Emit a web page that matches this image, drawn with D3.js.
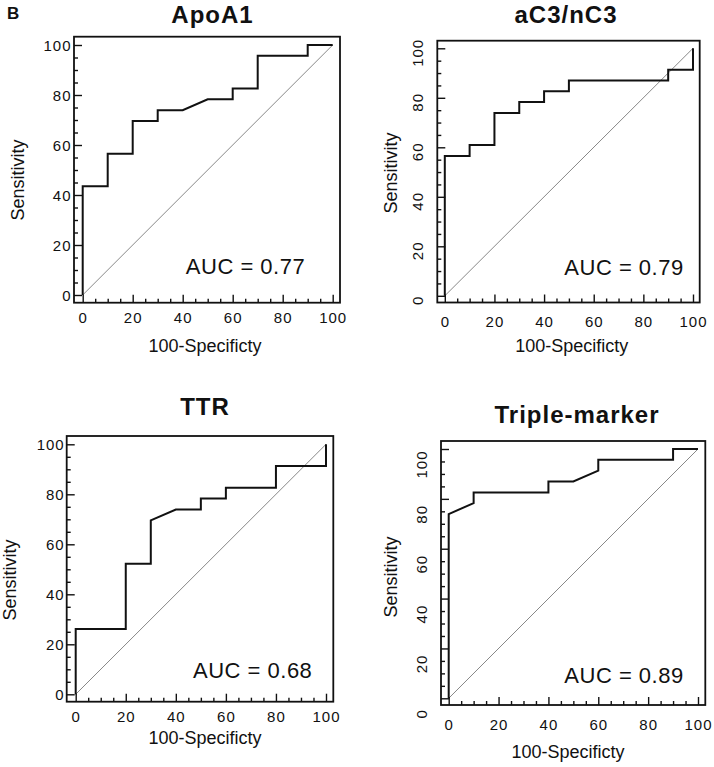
<!DOCTYPE html>
<html><head><meta charset="utf-8">
<script src="https://cdn.jsdelivr.net/npm/d3@7"></script>
<style>body{margin:0;background:#fff} svg{display:block} text{fill:#111}</style>
</head><body><svg id="c" width="714" height="767"></svg>
<script>
// ---- data ----
const titles = ["ApoA1", "aC3/nC3", "TTR", "Triple-marker"];
const aucValues = [0.77, 0.79, 0.68, 0.89];
const tickLabels = [0, 20, 40, 60, 80, 100];
const minorTicks = [5, 10, 15, 25, 30, 35, 45, 50, 55, 65, 70, 75, 85, 90, 95];
const xAxisTitle = "100-Specificty";
const yAxisTitle = "Sensitivity";
const panelLetter = "B";

const apoA1X = [0, 0, 10, 10, 20, 20, 30, 30, 40, 50, 60, 60, 70, 70, 90, 90, 100];
const apoA1Y = [0, 43.5, 43.5, 56.5, 56.5, 69.6, 69.6, 73.9, 73.9, 78.3, 78.3, 82.6, 82.6, 95.7, 95.7, 100, 100];
const c3X = [0, 0, 10, 10, 20, 20, 30, 30, 40, 40, 50, 50, 90, 90, 100, 100];
const c3Y = [0, 56.5, 56.5, 60.9, 60.9, 73.9, 73.9, 78.3, 78.3, 82.6, 82.6, 87, 87, 91.3, 91.3, 100];
const ttrX = [0, 0, 20, 20, 30, 30, 40, 50, 50, 60, 60, 80, 80, 100, 100];
const ttrY = [0, 26.1, 26.1, 52.2, 52.2, 69.6, 73.9, 73.9, 78.3, 78.3, 82.6, 82.6, 91.3, 91.3, 100];
const tripleX = [0, 0, 10, 10, 40, 40, 50, 60, 60, 90, 90, 100];
const tripleY = [0, 73.9, 78.3, 82.6, 82.6, 87, 87, 91.3, 95.7, 95.7, 100, 100];
const seriesX = [apoA1X, c3X, ttrX, tripleX];
const seriesY = [apoA1Y, c3Y, ttrY, tripleY];

// ---- layout ----
const FONT = '"Liberation Sans", Arial, Helvetica, sans-serif';
const layout = [
  {frame:[74,36.7,340,302.7], xr:[82.7,332.7], yr:[295,45], rot:false, yLabGap:2.5, yShift:0, xLabBase:322.7, title:[212.5,23.3], yTitle:[18,180], xTitle:[205,352], auc:[245.5,274]},
  {frame:[437.3,40.7,699.7,302.5], xr:[444.8,693], yr:[295.8,48.3], rot:true, yLabGap:19.5, yShift:4, xLabBase:327.3, title:[566,23.3], yTitle:[391,173], xTitle:[571.7,352.3], auc:[624,275]},
  {frame:[66.7,436,333.3,701.7], xr:[75.7,326], yr:[694.3,444.3], rot:false, yLabGap:2, yShift:0, xLabBase:721.7, title:[205,415], yTitle:[10,580], xTitle:[205,743.5], auc:[252.7,677.7]},
  {frame:[441,441,705.3,705], xr:[448.7,698], yr:[698.3,449], rot:true, yLabGap:19, yShift:15, xLabBase:730, title:[577,423.3], yTitle:[391,577], xTitle:[568,757.5], auc:[624,683.3]}
];

const svg = d3.select("#c").style("font-family", FONT);
svg.append("text").attr("x", 7).attr("y", 18.5).attr("font-weight", "bold")
  .attr("font-size", 17).attr("font-family", FONT).text(panelLetter);

layout.forEach((L, i) => {
  const g = svg.append("g");
  const [fx0, fy0, fx1, fy1] = L.frame;
  const x = d3.scaleLinear().domain([0, 100]).range(L.xr);
  const y = d3.scaleLinear().domain([0, 100]).range(L.yr);

  // diagonal reference
  g.append("line").attr("x1", x(0)).attr("y1", y(0)).attr("x2", x(100)).attr("y2", y(100))
    .attr("stroke", "#555").attr("stroke-width", 0.7);

  const styleAxis = a => {
    a.select(".domain").remove();
    a.attr("color", "#111").attr("font-family", FONT);
    a.selectAll("line").attr("stroke-width", 1.4);
  };

  // x axis: minor + major
  g.append("g").attr("transform", `translate(0,${fy1})`)
    .call(d3.axisBottom(x).tickValues(minorTicks).tickSize(-4).tickFormat(""))
    .call(styleAxis);
  const xa = g.append("g").attr("transform", `translate(0,${fy1})`)
    .call(d3.axisBottom(x).tickValues(tickLabels).tickSize(-8).tickFormat(d3.format("d")))
    .call(styleAxis);
  xa.selectAll("text").attr("y", L.xLabBase - fy1).attr("dy", null)
    .attr("font-size", 15).attr("letter-spacing", "1px").attr("fill", "#111");

  // y axis: minor + major
  g.append("g").attr("transform", `translate(${fx0},0)`)
    .call(d3.axisLeft(y).tickValues(minorTicks).tickSize(-4).tickFormat(""))
    .call(styleAxis);
  const ya = g.append("g").attr("transform", `translate(${fx0},0)`)
    .call(d3.axisLeft(y).tickValues(tickLabels).tickSize(-8).tickPadding(L.yLabGap).tickFormat(d3.format("d")))
    .call(styleAxis);
  const yt = ya.selectAll("text").attr("font-size", 15).attr("letter-spacing", "1px").attr("fill", "#111");
  if (L.rot) {
    yt.attr("x", null).attr("dy", "0.35em").attr("text-anchor", "middle")
      .attr("transform", `translate(${-L.yLabGap},${L.yShift}) rotate(-90)`);
  } else {
    yt.attr("dy", "0.35em");
  }

  // ROC curve
  const pts = seriesX[i].map((v, k) => [v, seriesY[i][k]]);
  g.append("path").datum(pts)
    .attr("d", d3.line().x(d => x(d[0])).y(d => y(d[1])))
    .attr("fill", "none").attr("stroke", "#111").attr("stroke-width", 2)
    .attr("stroke-linejoin", "miter");

  // frame
  g.append("rect").attr("x", fx0).attr("y", fy0).attr("width", fx1 - fx0).attr("height", fy1 - fy0)
    .attr("fill", "none").attr("stroke", "#111").attr("stroke-width", 1.8);

  // titles and labels
  g.append("text").attr("x", L.title[0]).attr("y", L.title[1]).attr("text-anchor", "middle")
    .attr("font-weight", "bold").attr("font-size", 24).attr("letter-spacing", "1px").attr("font-family", FONT).text(titles[i]);
  g.append("text").attr("transform", `translate(${L.yTitle[0]},${L.yTitle[1]}) rotate(-90)`)
    .attr("dy", "0.35em").attr("text-anchor", "middle").attr("font-size", 18).attr("font-family", FONT).text(yAxisTitle);
  g.append("text").attr("x", L.xTitle[0]).attr("y", L.xTitle[1]).attr("text-anchor", "middle")
    .attr("font-size", 18).attr("font-family", FONT).text(xAxisTitle);
  g.append("text").attr("x", L.auc[0]).attr("y", L.auc[1]).attr("text-anchor", "middle")
    .attr("font-size", 22).attr("letter-spacing", "0.5px").attr("font-family", FONT)
    .text("AUC = " + d3.format(".2f")(aucValues[i]));
});
</script></body></html>
